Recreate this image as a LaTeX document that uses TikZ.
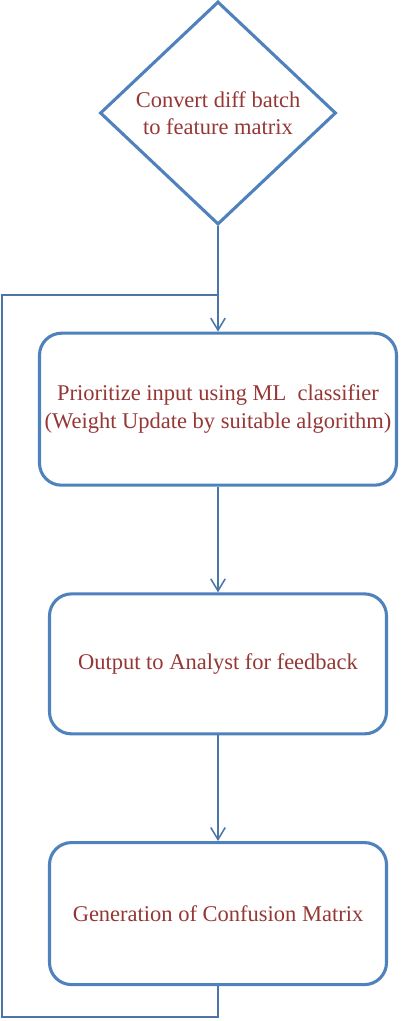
\documentclass[tikz,border=0pt]{standalone}
\usepackage{fontspec}
\setmainfont{Liberation Serif}
\usetikzlibrary{positioning,arrows.meta,shapes.geometric}
\definecolor{boxblue}{HTML}{4F81BD}
\definecolor{lineblue}{HTML}{4A76A8}
\definecolor{txtred}{HTML}{953735}
\tikzset{
  stepbox/.style={draw=boxblue,line width=2.2pt,rounded corners=0.55cm,align=center,
    font=\fontsize{16}{19.5}\selectfont,text=txtred,inner sep=0pt},
  decide/.style={draw=boxblue,line width=2.2pt,diamond,align=center,inner sep=0pt,
    font=\fontsize{16}{19.5}\selectfont,text=txtred},
  link/.style={draw=lineblue,line width=1.1pt}
}
\begin{document}
\begin{tikzpicture}[>={Straight Barb[length=3mm,width=3.6mm]},node distance=2.64cm]
\useasboundingbox (0,0) rectangle (10.35,-25.525);
\node[decide,minimum width=5.9cm,minimum height=5.575cm] (conv) at (5.45,-2.825) {Convert diff batch\\to feature matrix};
\node[stepbox,minimum width=8.925cm,minimum height=3.8cm] (prio) [below=of conv] {Prioritize input using ML\ \ classifier\\(Weight Update by suitable algorithm)};
\node[stepbox,minimum width=8.425cm,minimum height=3.5cm] (out) [below=of prio] {Output to Analyst for feedback};
\node[stepbox,minimum width=8.425cm,minimum height=3.55cm] (conf) [below=of out] {Generation of Confusion Matrix};
\coordinate (join) at (5.45,-7.375);
\coordinate (ul) at (0.05,-7.375);
\coordinate (ll) at (0.05,-25.425);
\coordinate (lr) at (5.45,-25.425);
\draw[link,->] (conv.south) -- (prio.north);
\draw[link,->] (prio) -- (out);
\draw[link,->] (out) -- (conf);
\draw[link] (conf.south) -- (lr) -- (ll) -- (ul) -- (join);
\end{tikzpicture}
\end{document}
